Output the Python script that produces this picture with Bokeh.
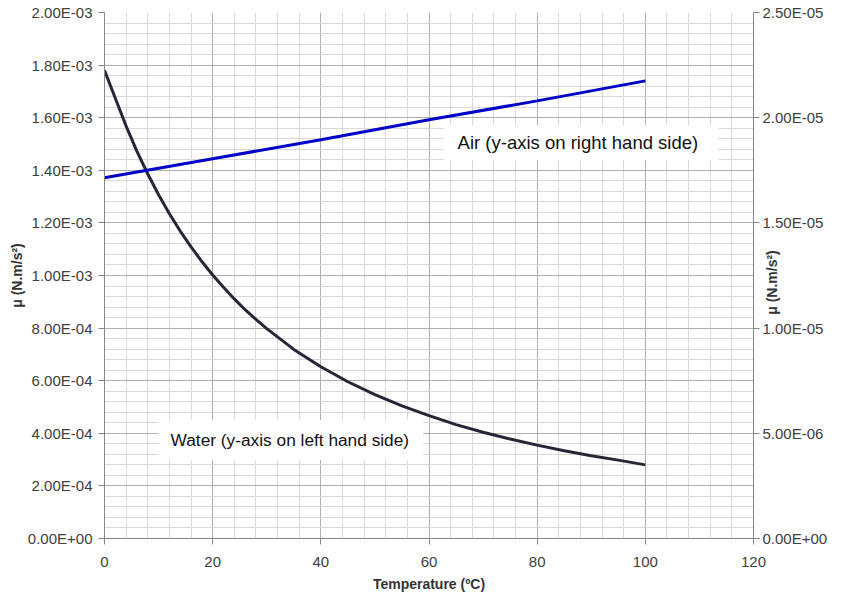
import math
from bokeh.plotting import figure
from bokeh.models import Range1d, LinearAxis, FixedTicker, CustomJSTickFormatter, Label
from bokeh.embed import file_html
from bokeh.resources import INLINE

# ---- data ----
temp_water = [0, 2, 4, 6, 8, 10, 12, 14, 16, 18, 20, 22, 24, 26, 28, 30,
              35, 40, 45, 50, 55, 60, 65, 70, 75, 80, 85, 90, 95, 100]
mu_water = [1.78e-3, 1.674e-3, 1.568e-3, 1.472e-3, 1.386e-3, 1.307e-3, 1.235e-3,
            1.169e-3, 1.109e-3, 1.053e-3, 1.002e-3, 0.955e-3, 0.911e-3, 0.870e-3,
            0.833e-3, 0.798e-3, 0.719e-3, 0.653e-3, 0.596e-3, 0.547e-3, 0.504e-3,
            0.467e-3, 0.433e-3, 0.404e-3, 0.378e-3, 0.355e-3, 0.334e-3, 0.315e-3,
            0.298e-3, 0.28e-3]
temp_air = [0, 20, 40, 60, 80, 100]
mu_air = [1.715e-5, 1.805e-5, 1.895e-5, 1.99e-5, 2.08e-5, 2.175e-5]

x_ticks = [0, 20, 40, 60, 80, 100, 120]
x_minor = list(range(0, 121, 4))
left_ticks = [0, 2e-4, 4e-4, 6e-4, 8e-4, 1.0e-3, 1.2e-3, 1.4e-3, 1.6e-3, 1.8e-3, 2.0e-3]
left_minor = [i * 4e-5 for i in range(51)]
right_ticks = [0, 5e-6, 1.0e-5, 1.5e-5, 2.0e-5, 2.5e-5]

x_title = "Temperature (ºC)"
y_title = "μ (N.m/s²)"
air_note = "Air (y-axis on right hand side)"
water_note = "Water (y-axis on left hand side)"

FONT = "Liberation Sans"
TXT = "#404040"
AX = "#868686"

p = figure(width=825, height=582, output_backend="svg", toolbar_location=None,
           x_range=Range1d(0, 120), y_range=Range1d(0, 2e-3),
           min_border_left=104, min_border_right=72, min_border_top=12, min_border_bottom=45,
           frame_width=649, frame_height=526)
p.extra_y_ranges = {"air": Range1d(0, 2.5e-5)}
p.outline_line_color = None
p.background_fill_color = "white"
p.border_fill_color = "white"

fmt = CustomJSTickFormatter(code="""
var s = tick.toExponential(2).split('e');
var e = parseInt(s[1]);
var a = Math.abs(e);
return s[0] + 'E' + (e < 0 ? '-' : '+') + (a < 10 ? '0' : '') + a;
""")

def style_axis(ax):
    ax.axis_line_color = AX
    ax.major_tick_line_color = AX
    ax.major_tick_out = 6
    ax.major_tick_in = 0
    ax.minor_tick_out = 0
    ax.minor_tick_in = 0
    ax.major_label_text_font = FONT
    ax.major_label_text_font_size = "15px"
    ax.major_label_text_color = TXT
    ax.axis_label_text_font = FONT
    ax.axis_label_text_font_size = "14px"
    ax.axis_label_text_font_style = "bold"
    ax.axis_label_text_color = "#333333"

xa = p.xaxis[0]
xa.ticker = FixedTicker(ticks=x_ticks, minor_ticks=x_minor)
xa.axis_label = x_title
style_axis(xa)
xa.major_label_standoff = 12
xa.axis_label_standoff = 6

ya = p.yaxis[0]
ya.ticker = FixedTicker(ticks=left_ticks, minor_ticks=left_minor)
ya.formatter = fmt
ya.axis_label = y_title
style_axis(ya)
ya.major_label_standoff = 6
ya.axis_label_standoff = 0

ra = LinearAxis(y_range_name="air", ticker=FixedTicker(ticks=right_ticks), formatter=fmt)
style_axis(ra)
ra.major_label_standoff = 3
p.add_layout(ra, "right")

for g in (p.xgrid[0], p.ygrid[0]):
    g.grid_line_color = "#b0b0b0"
    g.grid_line_width = 1
    g.minor_grid_line_color = "#d9d9d9"
    g.minor_grid_line_width = 1

p.line(temp_water, mu_water, line_color="#262636", line_width=3)
p.line(temp_air, mu_air, line_color="#0000c8", line_width=3, y_range_name="air")

p.add_layout(Label(x=62.7, y=1.505e-3, text=air_note, text_font=FONT, text_font_size="18.5px",
                   text_color="#111111", text_baseline="middle",
                   background_fill_color="white", padding=dict(left=14, right=20, top=7, bottom=7)))
p.add_layout(Label(x=10.0, y=3.75e-4, text=water_note, text_font=FONT, text_font_size="17.3px",
                   text_color="#111111", text_baseline="middle",
                   background_fill_color="white", padding=dict(left=12, right=14, top=10, bottom=10)))

# right-hand axis title, sitting beside the right axis as in the original
p.add_layout(Label(x=-59, y=256, x_units="screen", y_units="screen", text=y_title,
                   angle=math.pi / 2, text_font=FONT, text_font_size="14px",
                   text_font_style="bold", text_color="#333333",
                   text_align="center", text_baseline="middle"), "right")

open("out.html", "w").write(file_html(p, INLINE))
